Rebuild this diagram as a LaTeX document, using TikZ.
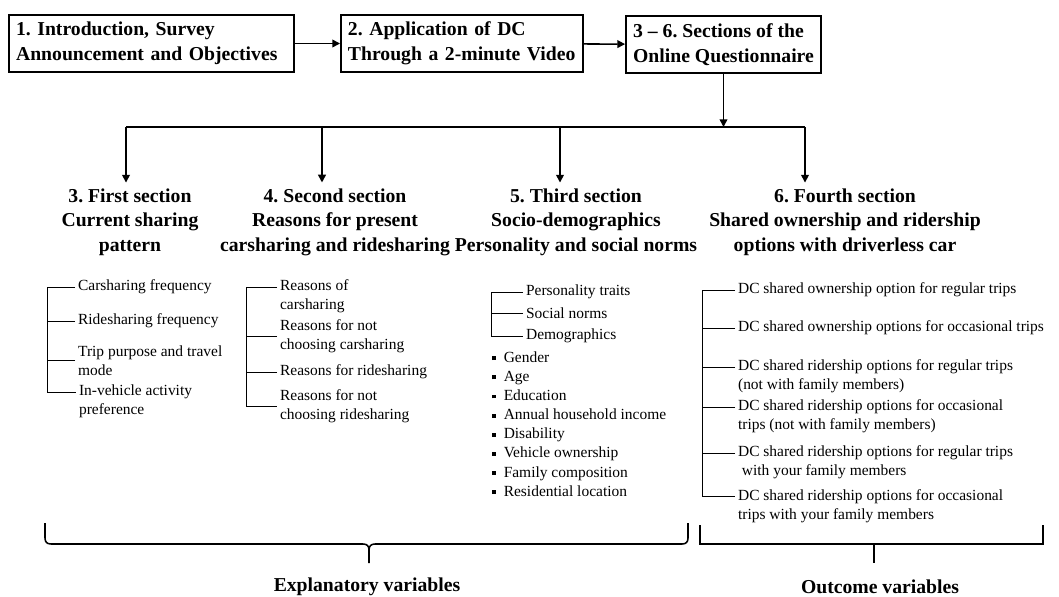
\documentclass[tikz,border=0pt]{standalone}
\usepackage{fontspec}
\setmainfont{Liberation Serif}
\usetikzlibrary{arrows.meta,calc}
\newcommand{\sqmark}{\rule[0.3ex]{2.8pt}{2.8pt}\hspace{5.5pt}}
\frenchspacing

\begin{document}
\begin{tikzpicture}[x=0.025cm, y=-0.025cm,
    box/.style={draw, line width=1.3pt, align=left, minimum height=1.425cm, inner xsep=5pt, font=\fontsize{14}{17.5}\selectfont\bfseries},
    head/.style={align=center, inner ysep=4pt, font=\fontsize{14}{17.5}\selectfont\bfseries},
    item/.style={anchor=west, align=left, inner sep=2pt, font=\fontsize{11}{13.5}\selectfont},
    arr/.style={line width=1.1pt, -{Triangle[length=5.5pt,width=5.5pt]}},
    twig/.style={line width=0.7pt},
    curly/.style={line width=1.1pt}]
    \useasboundingbox (0,0) rectangle (1059,597);

    % survey flow at the top
    \node[box, text width=6.77cm] (intro) at (151.5,43.5) {1. Introduction, Survey\\Announcement and Objectives};
    \node[box, text width=5.7cm] (video) at (462,43.5) {2. Application of DC\\Through a 2-minute Video};
    \node[box, minimum width=4.875cm] (online) at (723.5,44.5) {3 -- 6. Sections of the\\Online Questionnaire};
    \draw[arr] (intro) -- (video);
    \draw[arr] (video) -- (online);

    % the four sections
    \node[head] (sec1) at (130,222) {3. First section\\Current sharing\\pattern};
    \node[head] (sec2) at (335,222) {4. Second section\\Reasons for present\\carsharing and ridesharing};
    \node[head] (sec3) at (576,222) {5. Third section\\Socio-demographics\\Personality and social norms};
    \node[head] (sec4) at (845,222) {6. Fourth section\\Shared ownership and ridership\\options with driverless car};

    \coordinate (bus1) at (126,127);
    \coordinate (bus2) at (322,127);
    \coordinate (bus3) at (560,127);
    \coordinate (bus4) at (805,127);
    \draw[arr] (online.south) -- (online.south |- bus1);
    \draw[line width=1.1pt] (bus1) -- (bus4);
    \draw[arr] (bus1) -- (bus1 |- sec1.north);
    \draw[arr] (bus2) -- (bus2 |- sec2.north);
    \draw[arr] (bus3) -- (bus3 |- sec3.north);
    \draw[arr] (bus4) -- (bus4 |- sec4.north);

    % first section
    \node[item] (c1a) at (75,287) {Carsharing frequency};
    \node[item] (c1b) at (75,321) {Ridesharing frequency};
    \node[item] (c1c) at (75,360.5) {Trip purpose and travel\\mode};
    \node[item] (c1d) at (76,401.5) {In-vehicle activity\\preference};
    \draw[twig] (c1a.west) -- ++(-28,0) |- ([yshift=6.75pt]c1d.west);
    \draw[twig] (c1b.west) -- ++(-28,0);
    \draw[twig] (c1c.west) -- ++(-28,0);

    % second section
    \node[item] (c2a) at (277,296.5) {Reasons of\\carsharing};
    \node[item] (c2b) at (277,336.5) {Reasons for not\\choosing carsharing};
    \node[item] (c2c) at (277,372) {Reasons for ridesharing};
    \node[item] (c2d) at (277,406.5) {Reasons for not\\choosing ridesharing};
    \draw[twig] ([yshift=6.75pt]c2a.west) -- ++(-31,0) |- (c2d.west);
    \draw[twig] (c2b.west) -- ++(-31,0);
    \draw[twig] (c2c.west) -- ++(-31,0);

    % third section
    \node[item] (c3a) at (523,292) {Personality traits};
    \node[item] (c3b) at (523,313) {Social norms};
    \node[item] (c3c) at (523,336) {Demographics};
    \draw[twig] (c3a.west) -- ++(-32,0) |- (c3c.west);
    \draw[twig] (c3b.west) -- ++(-32,0);
    \node[item, font=\fontsize{11}{13.6}\selectfont] (demo) at (489,424) {\sqmark Gender\\\sqmark Age\\\sqmark Education\\\sqmark Annual household income\\\sqmark Disability\\\sqmark Vehicle ownership\\\sqmark Family composition\\\sqmark Residential location};

    % fourth section
    \node[item] (c4a) at (735,290) {DC shared ownership option for regular trips};
    \node[item] (c4b) at (735,328) {DC shared ownership options for occasional trips};
    \node[item] (c4c) at (735,376.5) {DC shared ridership options for regular trips\\(not with family members)};
    \node[item] (c4d) at (735,416.5) {DC shared ridership options for occasional\\trips (not with family members)};
    \node[item] (c4e) at (735,462.5) {DC shared ridership options for regular trips\\\ with your family members};
    \node[item] (c4f) at (735,506) {DC shared ridership options for occasional\\trips with your family members};
    \draw[twig] (c4a.west) -- ++(-33,0) |- ([yshift=6.75pt]c4f.west);
    \draw[twig] (c4b.west) -- ++(-33,0);
    \draw[twig] ([yshift=6.75pt]c4c.west) -- ++(-33,0);
    \draw[twig] ([yshift=6.75pt]c4d.west) -- ++(-33,0);
    \draw[twig] ([yshift=6.75pt]c4e.west) -- ++(-33,0);

    % braces at the bottom
    \draw[curly] (45,523) -- (45,538) .. controls (45,542) and (47,544) .. (51,544) -- (363,544)
        .. controls (367,544) and (369,546) .. (369,550) -- (369,563);
    \draw[curly] (369,550) .. controls (369,546) and (371,544) .. (375,544) -- (682,544)
        .. controls (686,544) and (688,542) .. (688,538) -- (688,523);
    \draw[curly] (700,525) -- (700,544) -- (1043,544) -- (1043,525);
    \draw[curly] (874,544) -- (874,563);
    \node[head] (expl) at (367,587) {Explanatory variables};
    \node[head] (outc) at (880,587) {Outcome variables};
\end{tikzpicture}
\end{document}
